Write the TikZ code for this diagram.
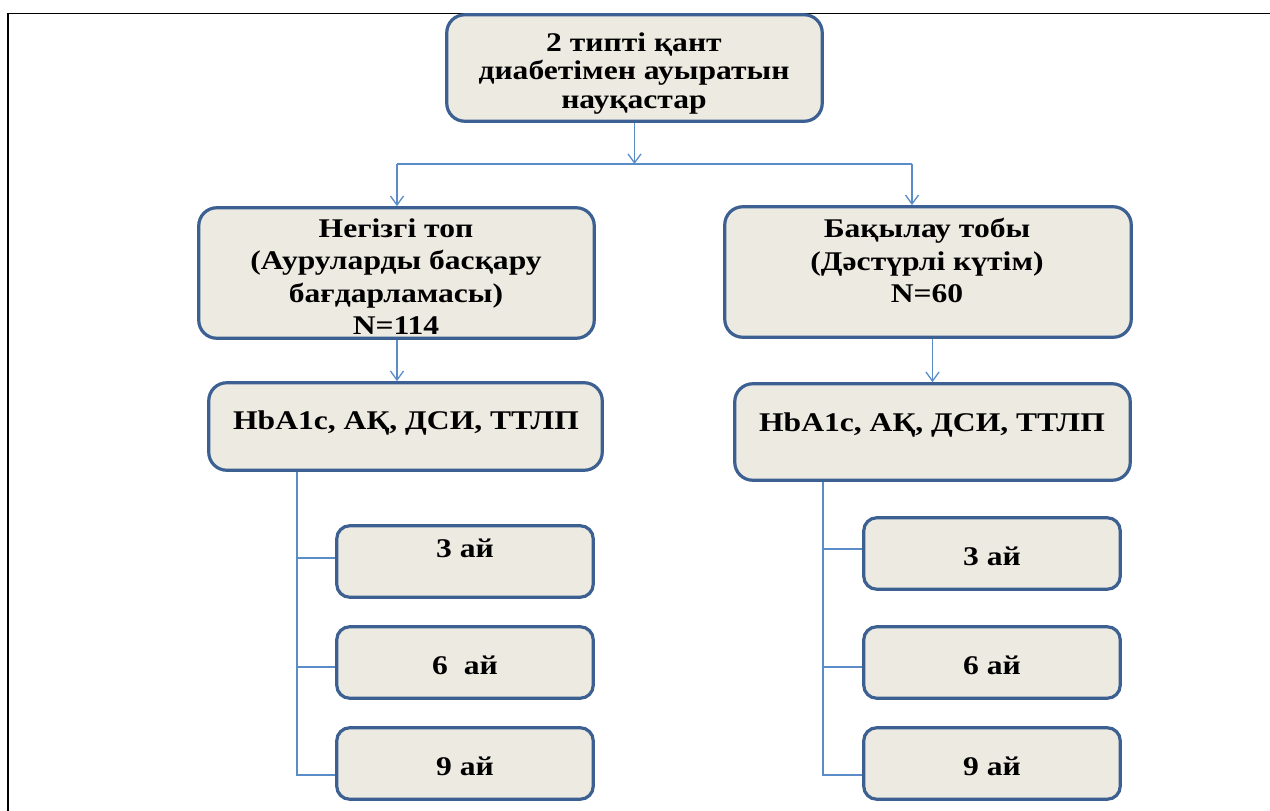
\documentclass[tikz,border=0pt]{standalone}
\usepackage{fontspec}
\setmainfont[FakeStretch=1.17]{Liberation Serif}
\usetikzlibrary{arrows.meta}
\definecolor{boxfill}{RGB}{236,234,225}
\definecolor{boxline}{RGB}{60,96,145}
\definecolor{conn}{RGB}{90,140,200}
\begin{document}
\begin{tikzpicture}[x=1pt,y=-1pt,
 box/.style={draw=boxline, fill=boxfill, line width=3.2pt, rounded corners=18pt, inner sep=0pt},
 sbox/.style={box, rounded corners=13pt, minimum width=256.5pt, minimum height=71.5pt},
 txt/.style={font=\bfseries\fontsize{27}{28.5}\selectfont, align=center, inner sep=0pt, text=black},
 txtb/.style={txt, font=\bfseries\fontsize{27}{32.5}\selectfont},
 ln/.style={draw=conn, line width=1.3pt},
 arr/.style={ln, -{Straight Barb[length=9pt,width=13pt]}}]
\useasboundingbox (0,0) rectangle (1270,811);
\draw[black, line width=1.6pt] (8,811) -- (8,13.5) -- (1270,13.5);

% boxes
\node[box, minimum width=375.5pt, minimum height=106.5pt] (top) at (634.5,68) {};
\node[box, minimum width=395.5pt, minimum height=130.5pt] (g1) at (396.5,273) {};
\node[box, minimum width=406.5pt, minimum height=130.5pt] (g2) at (928,272) {};
\node[box, minimum width=393.5pt, minimum height=87.5pt] (m1) at (405.5,426.5) {};
\node[box, minimum width=395.5pt, minimum height=96.5pt] (m2) at (932.5,432) {};
\node[sbox] (a3) at (465,561.5) {};
\node[sbox] (a6) at (465,662.5) {};
\node[sbox] (a9) at (465,763.5) {};
\node[sbox] (b3) at (992,553.5) {};
\node[sbox] (b6) at (992,662.5) {};
\node[sbox] (b9) at (992,763.5) {};

% texts
\node[txt] (topt) at (634,73.5) {2 типті қант\\диабетімен ауыратын\\науқастар};
\node[txtb] (g1t) at (396,276.5) {Негізгі топ\\(Ауруларды басқару\\бағдарламасы)\\N=114};
\node[txtb] (g2t) at (927,260.5) {Бақылау тобы\\(Дәстүрлі күтім)\\N=60};
\node[txt] (m1t) at (406,423) {HbA1c, АҚ, ДСИ, ТТЛП};
\node[txt] (m2t) at (932,425) {HbA1c, АҚ, ДСИ, ТТЛП};
\node[txt] (a3t) at (465,548) {3 ай};
\node[txt] (a6t) at (465,665) {6\ \ ай};
\node[txt] (a9t) at (465,766) {9 ай};
\node[txt] (b3t) at (992,556) {3 ай};
\node[txt] (b6t) at (992,665) {6 ай};
\node[txt] (b9t) at (992,766) {9 ай};

% connectors
\coordinate (j0) at (634.5,164);
\coordinate (hL) at (397,164);
\coordinate (hR) at (912,164);
\coordinate (vL) at (297,0);
\coordinate (vR) at (823,0);
\draw[arr] (top.south) -- (j0);
\draw[ln] (hL) -- (hR);
\draw[arr] (hL) -- (hL |- g1.north);
\draw[arr] (hR) -- (hR |- g2.north);
\draw[arr] (hL |- g1.south) -- (hL |- m1.north);
\draw[arr] (m2.north |- g2.south) -- (m2.north);
\draw[ln] (vL |- m1.south) |- ([yshift=3.5pt]a3.west);
\draw[ln] (vL |- m1.south) |- ([yshift=-4.5pt]a6.west);
\draw[ln] (vL |- m1.south) |- ([yshift=-11.5pt]a9.west);
\draw[ln] (vR |- m2.south) |- ([yshift=4.5pt]b3.west);
\draw[ln] (vR |- m2.south) |- ([yshift=-4.5pt]b6.west);
\draw[ln] (vR |- m2.south) |- ([yshift=-11.5pt]b9.west);
\end{tikzpicture}
\end{document}
